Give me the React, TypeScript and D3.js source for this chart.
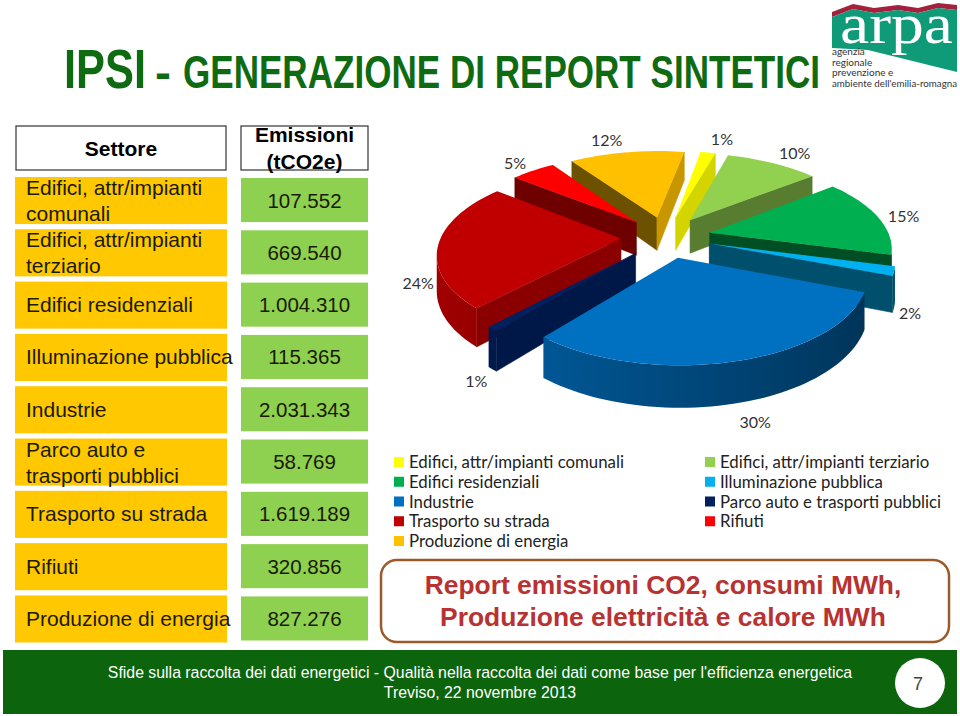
import React from 'react';
import * as d3 from 'd3';

// table and pie data, same order as the pie goes round (clockwise)
const sectors = [
  ['Edifici, attr/impianti', 'comunali'],
  ['Edifici, attr/impianti', 'terziario'],
  ['Edifici residenziali'],
  ['Illuminazione pubblica'],
  ['Industrie'],
  ['Parco auto e', 'trasporti pubblici'],
  ['Trasporto su strada'],
  ['Rifiuti'],
  ['Produzione di energia'],
];
const emissions = [107552, 669540, 1004310, 115365, 2031343, 58769, 1619189, 320856, 827276];
const sliceKeys = [0, 1, 2, 3, 4, 5, 6, 7, 8];
const pctLabels = ['1%', '10%', '15%', '2%', '30%', '1%', '24%', '5%', '12%'];
const sliceColors = ['#ffff00', '#92d050', '#00b050', '#00b0f0', '#0070c0', '#002060', '#c00000', '#ff0000', '#ffc000'];
// how dark the two flat walls of each slice are (0 = black, 1 = top colour)
const startWallShade = [0.8, 0.6, 0.45, 0.45, 0.7, 0.75, 0.72, 0.43, 0.42];
const endWallShade = [0.83, 0.6, 0.45, 0.45, 0.7, 0.75, 0.72, 0.43, 0.78];
// nudges of the % labels away from the rim of their slice
const labelShiftX = [14, 22, 26, 16, 18, -16, -20, -18, -20];
const labelShiftY = [-26, -23, -15, 26, 42, 34, 23, -20, -25];

const legendLeft = [
  ['Edifici, attr/impianti comunali', '#ffff00'],
  ['Edifici residenziali', '#00b050'],
  ['Industrie', '#0070c0'],
  ['Trasporto su strada', '#c00000'],
  ['Produzione di energia', '#ffc000'],
];
const legendRight = [
  ['Edifici, attr/impianti terziario', '#92d050'],
  ['Illuminazione pubblica', '#00b0f0'],
  ['Parco auto e trasporti pubblici', '#002060'],
  ['Rifiuti', '#ff0000'],
];

const itLocale = d3.formatLocale({ decimal: ',', thousands: '.', grouping: [3], currency: ['€', ''] });
const fmt = itLocale.format(',d');

const ARIAL = '"Liberation Sans", Arial, sans-serif';
const CALIBRI = 'Lato, sans-serif';

// pie projection
const cx = 666;
const cy = 237;
const R = 180;
const explode = 45;
const persp = 0.16;
const squash = 0.46;
const depth = 34;
const firstAngle = (10 * Math.PI) / 180;

type Pt = [number, number];

function project(x: number, y: number, z: number): Pt {
  const s = 1 / (1 - (persp * y) / R);
  return [cx + x * s, cy + y * squash * s + z * depth * s];
}

// point on a slice: r along angle a, after pushing the slice out along its bisector
function slicePoint(a: number, r: number, mid: number, z: number): Pt {
  const x = explode * Math.sin(mid) + r * Math.sin(a);
  const y = -explode * Math.cos(mid) - r * Math.cos(a);
  return project(x, y, z);
}

const closedLine = d3.line().curve(d3.curveLinearClosed);

const shade = (c: string, f: number) => d3.interpolateRgb('#000000', c)(f);
// rim is lighter on the left of the pie, darker on the right
const rimShade = (a: number) => 0.45 + (0.4 * (1 - Math.sin(a))) / 2;

const pieGen = d3.pie<number>().sort(null).value((i) => emissions[i]).startAngle(firstAngle).endAngle(firstAngle + 2 * Math.PI);
const arcs = pieGen(sliceKeys);

function Slice({ d }: { d: d3.PieArcDatum<number> }) {
  const i = d.data;
  const a0 = d.startAngle;
  const a1 = d.endAngle;
  const mid = (a0 + a1) / 2;
  const color = sliceColors[i];
  const step = (2 * Math.PI) / 180;
  const n = Math.max(2, Math.ceil((a1 - a0) / step));
  const angles = d3.range(n + 1).map((k) => a0 + ((a1 - a0) * k) / n);

  const startWall: Pt[] = [slicePoint(a0, 0, mid, 0), slicePoint(a0, R, mid, 0), slicePoint(a0, R, mid, 1), slicePoint(a0, 0, mid, 1)];
  const endWall: Pt[] = [slicePoint(a1, R, mid, 0), slicePoint(a1, 0, mid, 0), slicePoint(a1, 0, mid, 1), slicePoint(a1, R, mid, 1)];
  const walls = [
    { pts: startWall, fill: shade(color, startWallShade[i]) },
    { pts: endWall, fill: shade(color, endWallShade[i]) },
  ].filter((f) => d3.polygonArea(f.pts) > 0);

  // angles of the rim that face the viewer
  const rimAngles: number[] = [];
  for (let k = 0; k < n; k++) {
    const q: Pt[] = [slicePoint(angles[k], R, mid, 0), slicePoint(angles[k + 1], R, mid, 0), slicePoint(angles[k + 1], R, mid, 1), slicePoint(angles[k], R, mid, 1)];
    if (d3.polygonArea(q) > 0) {
      if (!rimAngles.length) rimAngles.push(angles[k]);
      rimAngles.push(angles[k + 1]);
    }
  }
  const rim: Pt[] = [
    ...rimAngles.map((a) => slicePoint(a, R, mid, 0)),
    ...[...rimAngles].reverse().map((a) => slicePoint(a, R, mid, 1)),
  ];
  const rimX = rimAngles.map((a) => slicePoint(a, R, mid, 0)[0]);
  const [x0, x1] = rimAngles.length ? (d3.extent(rimX) as [number, number]) : [0, 1];
  const xScale = d3.scaleLinear().domain([x0, x1]).range([0, 1]);
  const stops = rimAngles
    .map((a, k) => ({ offset: xScale(rimX[k]), fill: shade(color, rimShade(a)) }))
    .sort((p, q) => p.offset - q.offset);

  const top: Pt[] = [slicePoint(a0, 0, mid, 0), ...angles.map((a) => slicePoint(a, R, mid, 0))];

  return (
    <g>
      {walls.map((f, k) => (
        <path key={k} d={closedLine(f.pts) as string} fill={f.fill} stroke={f.fill} strokeWidth={0.6} />
      ))}
      {rimAngles.length > 1 && (
        <>
          <linearGradient id={`rim-${i}`} gradientUnits="userSpaceOnUse" x1={x0} x2={x1} y1={0} y2={0}>
            {stops.map((s, k) => (
              <stop key={k} offset={s.offset} stopColor={s.fill} />
            ))}
          </linearGradient>
          <path d={closedLine(rim) as string} fill={`url(#rim-${i})`} />
        </>
      )}
      <path d={closedLine(top) as string} fill={color} />
    </g>
  );
}

function Pie3D() {
  // paint from the back of the pie to the front
  const order = [...arcs].sort(
    (p, q) => -Math.cos((p.startAngle + p.endAngle) / 2) - -Math.cos((q.startAngle + q.endAngle) / 2)
  );
  return (
    <g>
      {order.map((d) => (
        <Slice key={d.data} d={d} />
      ))}
      {arcs.map((d) => {
        const mid = (d.startAngle + d.endAngle) / 2;
        const [x, y] = slicePoint(mid, R, mid, 0.5);
        return (
          <text
            key={d.data}
            x={x + labelShiftX[d.data]}
            y={y + labelShiftY[d.data]}
            textAnchor="middle"
            dominantBaseline="middle"
            fontFamily={CALIBRI}
            fontSize={16}
            fill="#333"
          >
            {pctLabels[d.data]}
          </text>
        );
      })}
    </g>
  );
}

function Table() {
  const rowY = d3.scaleBand<number>().domain(d3.range(sectors.length)).range([177, 642.5]).paddingInner(0.1).paddingOuter(0);
  return (
    <g fontFamily={ARIAL} fontSize={21} fill="#1a1a00">
      <rect x={16} y={126} width={210} height={44} fill="#fff" stroke="#333" strokeWidth={1.2} />
      <text x={121} y={156} textAnchor="middle" fontWeight="bold" fill="#000">
        Settore
      </text>
      <rect x={241} y={126} width={127} height={44} fill="#fff" stroke="#333" strokeWidth={1.2} />
      <text textAnchor="middle" fontWeight="bold" fill="#000">
        <tspan x={304.5} y={142}>Emissioni</tspan>
        <tspan x={304.5} y={169}>(tCO2e)</tspan>
      </text>
      {sectors.map((lines, i) => {
        const y = rowY(i) as number;
        const h = rowY.bandwidth();
        return (
          <g key={i}>
            <rect x={15} y={y} width={212} height={h} fill="#ffc800" />
            <rect x={241} y={y + 1} width={127} height={h - 3} fill="#8ed04f" />
            {lines.length === 1 ? (
              <text x={26} y={y + h / 2 + 7}>{lines[0]}</text>
            ) : (
              <text>
                <tspan x={26} y={y + 18}>{lines[0]}</tspan>
                <tspan x={26} y={y + 44}>{lines[1]}</tspan>
              </text>
            )}
            <text x={304.5} y={y + h / 2 + 7} textAnchor="middle" fontSize={20.5}>
              {fmt(emissions[i])}
            </text>
          </g>
        );
      })}
    </g>
  );
}

function Legend() {
  const y = d3.scalePoint<number>().domain(d3.range(legendLeft.length)).range([462, 541]);
  const col = (items: string[][], swatchX: number) =>
    items.map(([label, c], i) => (
      <g key={label}>
        <rect x={swatchX} y={(y(i) as number) - 5} width={10} height={10} fill={c} />
        <text x={swatchX + 15} y={(y(i) as number) + 6} fontFamily={CALIBRI} fontSize={16.8} fill="#222">
          {label}
        </text>
      </g>
    ));
  return (
    <g>
      {col(legendLeft, 394)}
      {col(legendRight, 705)}
    </g>
  );
}

function Logo() {
  return (
    <g>
      <path d="M832,12 L853,4 L874,8 L898,5 L918,8 L938,3 L957,5 L957,10 L938,8 L918,13 L898,10 L874,13 L853,9 L832,17 Z" fill="#a5203c" />
      <path d="M832,17 L853,9 L874,13 L898,10 L918,13 L938,8 L957,10 L957,72 L868,50 L832,48 Z" fill="#0f9a78" />
      <text x={840} y={43} fontFamily='"Liberation Serif", serif' fontSize={58} fill="#fff" textLength={113} lengthAdjust="spacingAndGlyphs">
        arpa
      </text>
      <g fontFamily={CALIBRI} fontSize={10} fill="#333">
        <text x={832} y={55}>agenzia</text>
        <text x={832} y={65.5}>regionale</text>
        <text x={832} y={76}>prevenzione e</text>
        <text x={832} y={86.5} textLength={125} lengthAdjust="spacingAndGlyphs">ambiente dell'emilia-romagna</text>
      </g>
    </g>
  );
}

export default function App() {
  return (
    <svg width={960} height={716} viewBox="0 0 960 716" style={{ position: 'absolute', left: 0, top: 0, display: 'block', background: '#fff' }}>
      <g fontFamily={ARIAL} fontWeight="bold" fill="#0f6b12">
        <text x={64} y={88} fontSize={56} textLength={82} lengthAdjust="spacingAndGlyphs">IPSI</text>
        <text x={155} y={88} fontSize={46} textLength={16} lengthAdjust="spacingAndGlyphs">-</text>
        <text x={183} y={88} fontSize={46} textLength={637} lengthAdjust="spacingAndGlyphs">GENERAZIONE DI REPORT SINTETICI</text>
      </g>
      <Logo />
      <Table />
      <Pie3D />
      <Legend />

      <rect x={381} y={560} width={568} height={82} rx={16} fill="#fff" stroke="#9c5a2a" strokeWidth={2.5} />
      <text textAnchor="middle" fontFamily={ARIAL} fontWeight="bold" fontSize={26.4} fill="#b83232">
        <tspan x={663} y={594}>Report emissioni CO2, consumi MWh,</tspan>
        <tspan x={663} y={626}>Produzione elettricità e calore MWh</tspan>
      </text>

      <rect x={3} y={650} width={954} height={64} fill="#0c640c" />
      <text textAnchor="middle" fontFamily={ARIAL} fontSize={15.85} fill="#fff">
        <tspan x={480} y={678}>Sfide sulla raccolta dei dati energetici - Qualità nella raccolta dei dati come base per l'efficienza energetica</tspan>
        <tspan x={480} y={698}>Treviso, 22 novembre 2013</tspan>
      </text>
      <circle cx={920} cy={683} r={25} fill="#fff" />
      <text x={918} y={690} textAnchor="middle" fontFamily={ARIAL} fontSize={18} fill="#444">7</text>
    </svg>
  );
}
